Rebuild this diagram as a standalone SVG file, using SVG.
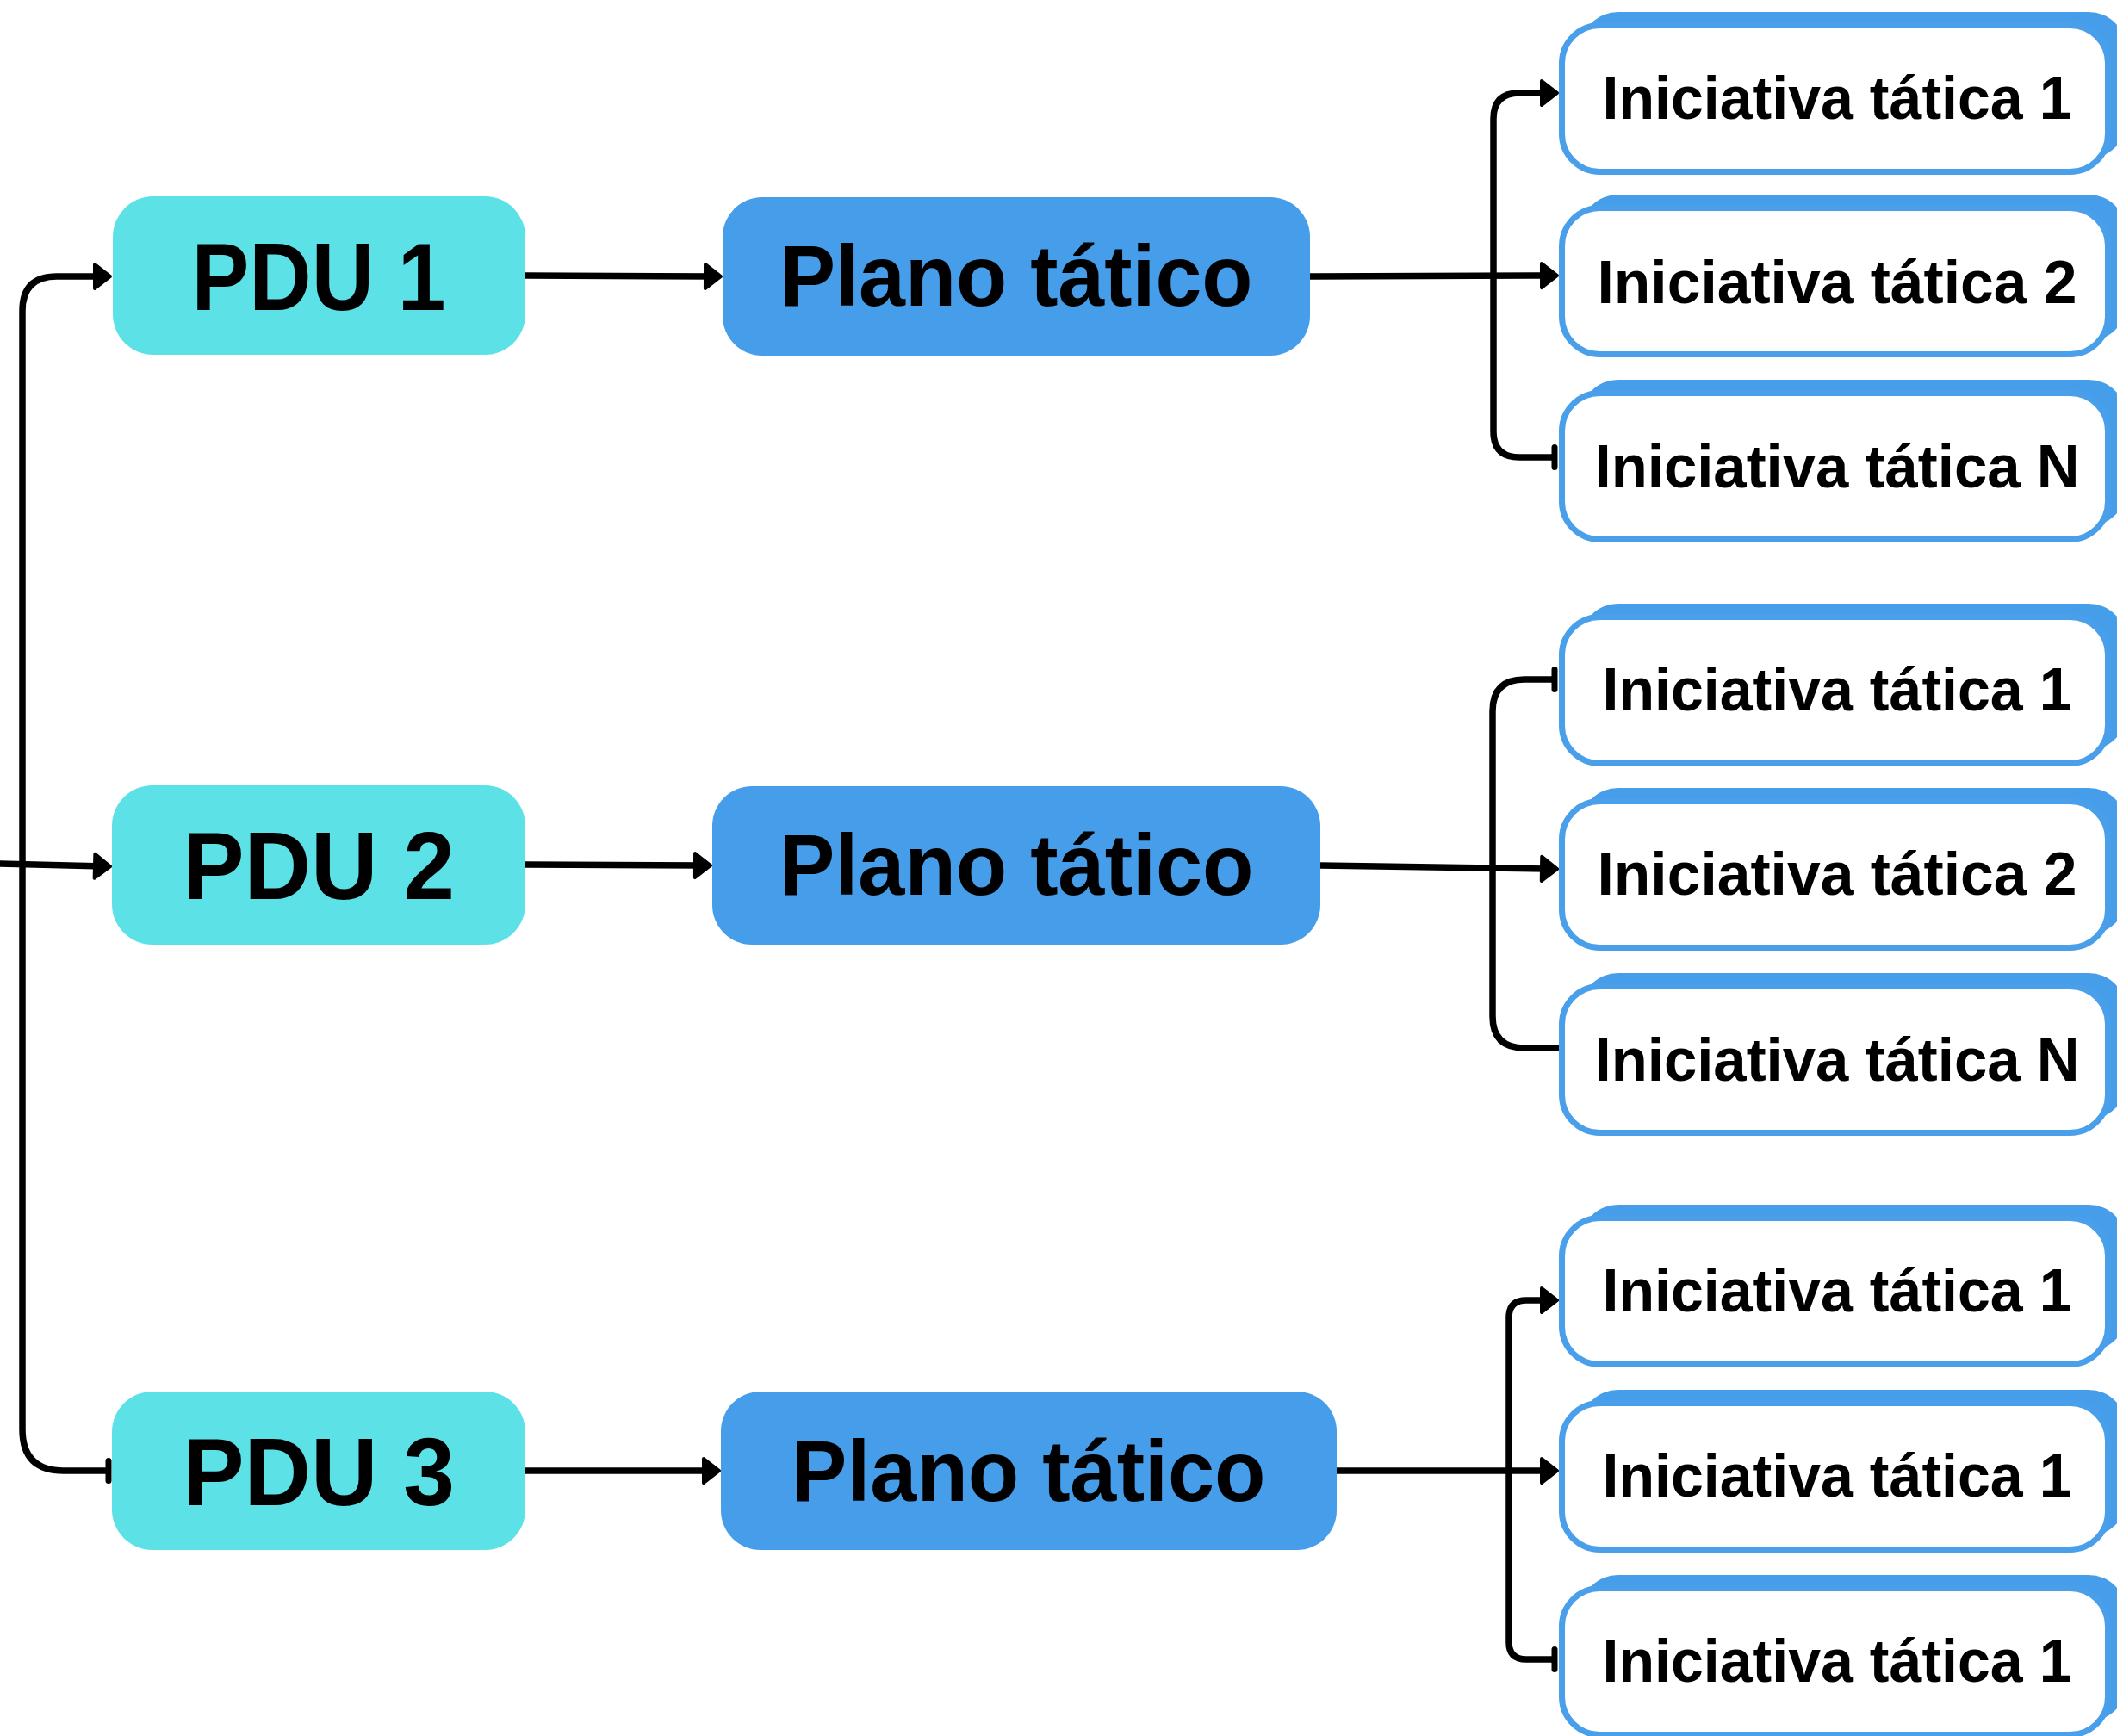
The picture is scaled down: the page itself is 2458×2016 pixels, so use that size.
<svg xmlns="http://www.w3.org/2000/svg" width="2458" height="2016" viewBox="0 0 2458 2016">
<defs>
<style>
.pdu{fill:#5CE1E6}
.plano{fill:#469EEA}
.sh{fill:#469EEA}
.ini{fill:#FFFFFF;stroke:#4A9FEA;stroke-width:7}
.t{font-family:"Liberation Sans",Arial,sans-serif;font-weight:bold;fill:#000;text-anchor:middle}
.tp{font-size:112px}
.tl{font-size:100px}
.ti{font-size:71px}
.c{fill:none;stroke:#000;stroke-width:7.5}
.a{marker-end:url(#arr)}
.e{marker-end:url(#tee)}
</style>
<marker id="arr" markerUnits="userSpaceOnUse" viewBox="0 0 30 40" refX="14" refY="20" markerWidth="30" markerHeight="40" orient="auto">
<path d="M4,6 L22,20 L4,34 Z" fill="#000" stroke="#000" stroke-width="4" stroke-linejoin="round"/>
</marker>
<marker id="tee" markerUnits="userSpaceOnUse" viewBox="0 0 10 40" refX="5" refY="20" markerWidth="10" markerHeight="40" orient="auto">
<rect x="1.5" y="5" width="7" height="30" rx="3.5" fill="#000"/>
</marker>
</defs>
<rect width="2458" height="2016" fill="#FFFFFF"/>

<g id="connectors">
<path class="c a" d="M-5,1003 L120,1006"/>
<path class="c a" d="M26,1004 V361 Q26,321 66,321 H120"/>
<path class="c e" d="M26,1004 V1660 Q26,1708 74,1708 H126"/>
<path class="c a" d="M610,320 L829,321"/>
<path class="c a" d="M610,1004 L817,1005"/>
<path class="c a" d="M610,1708 H827"/>
<path class="c a" d="M1521,321 L1800,320"/>
<path class="c a" d="M1734,321 V138 Q1734,108 1764,108 H1800"/>
<path class="c e" d="M1734,321 V501 Q1734,531 1764,531 H1805"/>
<path class="c a" d="M1533,1005 L1800,1009"/>
<path class="c e" d="M1733,1007 V826 Q1733,789 1770,789 H1805"/>
<path class="c" d="M1733,1007 V1180 Q1733,1217 1770,1217 H1812"/>
<path class="c a" d="M1552,1708 H1800"/>
<path class="c a" d="M1752,1708 V1530 Q1752,1510 1772,1510 H1800"/>
<path class="c e" d="M1752,1708 V1907 Q1752,1927 1772,1927 H1805"/>
</g>

<g id="pdu1"><rect class="pdu" x="131" y="228" width="479" height="184" rx="47"/><text class="t tp" x="370" y="360" textLength="295" lengthAdjust="spacingAndGlyphs">PDU 1</text></g>
<g id="pdu2"><rect class="pdu" x="130" y="912" width="480" height="185" rx="47"/><text class="t tp" x="370" y="1044" textLength="316" lengthAdjust="spacingAndGlyphs">PDU 2</text></g>
<g id="pdu3"><rect class="pdu" x="130" y="1616" width="480" height="184" rx="47"/><text class="t tp" x="370" y="1748" textLength="316" lengthAdjust="spacingAndGlyphs">PDU 3</text></g>

<g id="plano1"><rect class="plano" x="839" y="229" width="682" height="184" rx="46"/><text class="t tl" x="1180" y="355" textLength="549" lengthAdjust="spacingAndGlyphs">Plano tático</text></g>
<g id="plano2"><rect class="plano" x="827" y="913" width="706" height="184" rx="46"/><text class="t tl" x="1180" y="1039" textLength="551" lengthAdjust="spacingAndGlyphs">Plano tático</text></g>
<g id="plano3"><rect class="plano" x="837" y="1616" width="715" height="184" rx="46"/><text class="t tl" x="1194" y="1743" textLength="551" lengthAdjust="spacingAndGlyphs">Plano tático</text></g>

<g id="ini1-1"><rect class="sh" x="1835" y="14" width="634" height="170" rx="44"/><rect class="ini" x="1813.5" y="29.5" width="634" height="170" rx="44"/><text class="t ti" x="2133" y="138" textLength="545" lengthAdjust="spacingAndGlyphs">Iniciativa tática 1</text></g>
<g id="ini1-2"><rect class="sh" x="1835" y="226" width="634" height="170" rx="44"/><rect class="ini" x="1813.5" y="241.5" width="634" height="170" rx="44"/><text class="t ti" x="2133" y="352" textLength="557" lengthAdjust="spacingAndGlyphs">Iniciativa tática 2</text></g>
<g id="ini1-3"><rect class="sh" x="1835" y="441" width="634" height="170" rx="44"/><rect class="ini" x="1813.5" y="456.5" width="634" height="170" rx="44"/><text class="t ti" x="2133" y="566" textLength="563" lengthAdjust="spacingAndGlyphs">Iniciativa tática N</text></g>

<g id="ini2-1"><rect class="sh" x="1835" y="701" width="634" height="170" rx="44"/><rect class="ini" x="1813.5" y="716.5" width="634" height="170" rx="44"/><text class="t ti" x="2133" y="825" textLength="545" lengthAdjust="spacingAndGlyphs">Iniciativa tática 1</text></g>
<g id="ini2-2"><rect class="sh" x="1835" y="915" width="634" height="170" rx="44"/><rect class="ini" x="1813.5" y="930.5" width="634" height="170" rx="44"/><text class="t ti" x="2133" y="1039" textLength="557" lengthAdjust="spacingAndGlyphs">Iniciativa tática 2</text></g>
<g id="ini2-3"><rect class="sh" x="1835" y="1130" width="634" height="170" rx="44"/><rect class="ini" x="1813.5" y="1145.5" width="634" height="170" rx="44"/><text class="t ti" x="2133" y="1255" textLength="563" lengthAdjust="spacingAndGlyphs">Iniciativa tática N</text></g>

<g id="ini3-1"><rect class="sh" x="1835" y="1399" width="634" height="170" rx="44"/><rect class="ini" x="1813.5" y="1414.5" width="634" height="170" rx="44"/><text class="t ti" x="2133" y="1523" textLength="545" lengthAdjust="spacingAndGlyphs">Iniciativa tática 1</text></g>
<g id="ini3-2"><rect class="sh" x="1835" y="1614" width="634" height="170" rx="44"/><rect class="ini" x="1813.5" y="1629.5" width="634" height="170" rx="44"/><text class="t ti" x="2133" y="1738" textLength="545" lengthAdjust="spacingAndGlyphs">Iniciativa tática 1</text></g>
<g id="ini3-3"><rect class="sh" x="1835" y="1829" width="634" height="170" rx="44"/><rect class="ini" x="1813.5" y="1844.5" width="634" height="170" rx="44"/><text class="t ti" x="2133" y="1953" textLength="545" lengthAdjust="spacingAndGlyphs">Iniciativa tática 1</text></g>
</svg>
